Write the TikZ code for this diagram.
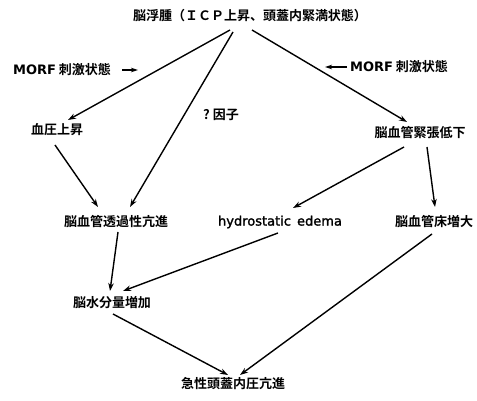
\documentclass[tikz,border=0pt]{standalone}
\usepackage{fontspec}
\setmainfont{Noto Sans CJK JP}[BoldFont={* Bold}]
\newfontfamily\latf{DejaVu Sans}[FakeBold=1.6]
\newfontfamily\latb{DejaVu Sans Bold}
\usetikzlibrary{arrows.meta}
\begin{document}
\begin{tikzpicture}[x=1pt,y=-1pt,
  lbl/.style={font=\fontsize{13}{15}\selectfont\bfseries, inner sep=1pt},
  arr/.style={-{Stealth[length=8pt,width=5.5pt]}, line width=1.4pt},
  sarr/.style={-{Stealth[length=7pt,width=4.5pt]}, line width=1.3pt}]
\useasboundingbox (0,0) rectangle (477,401);
\node[lbl] (top) at (250,16) {脳浮腫（ＩＣＰ上昇、頭蓋内緊満状態）};
\node[lbl] (morfL) at (62,70) {{\latb MORF} 刺激状態};
\node[lbl] (morfR) at (399,67) {{\latb MORF} 刺激状態};
\node[lbl] (bp) at (57,130) {血圧上昇};
\node[lbl] (q) at (221,115) {?\hspace{3pt}因子};
\node[lbl] (tone) at (420,133) {脳血管緊張低下};
\node[lbl] (perm) at (116,222) {脳血管透過性亢進};
\node[lbl] (hyd) at (280,222) {\latf\mdseries hydrostatic\hspace{2pt} edema};
\node[lbl] (bed) at (434,222) {脳血管床増大};
\node[lbl] (water) at (112,303) {脳水分量増加};
\node[lbl] (icp) at (233,384) {急性頭蓋内圧亢進};
\draw[sarr] ([xshift=60pt]morfL.center) -- ([xshift=76pt]morfL.center);
\draw[sarr] ([xshift=-52pt]morfR.center) -- ([xshift=-74pt]morfR.center);
\draw[arr] ([xshift=-20pt,yshift=-14pt]top.center) -- ([xshift=11pt,yshift=10pt]bp.center);
\draw[arr] ([xshift=-17pt,yshift=-16pt]top.center) -- ([xshift=14pt,yshift=15pt]perm.center);
\draw[arr] ([xshift=2pt,yshift=-14pt]top.center) -- ([xshift=-13pt,yshift=11pt]tone.center);
\draw[arr] ([xshift=-2pt,yshift=-15pt]bp.center) -- ([xshift=-18pt,yshift=15pt]perm.center);
\draw[arr] ([xshift=-16pt,yshift=-14pt]tone.center) -- ([xshift=13pt,yshift=14pt]hyd.center);
\draw[arr] ([xshift=7pt,yshift=-14pt]tone.center) -- ([xshift=1pt,yshift=15pt]bed.center);
\draw[arr] ([xshift=2pt,yshift=-10pt]perm.center) -- ([xshift=-2pt,yshift=12pt]water.center);
\draw[arr] ([xshift=-2pt,yshift=-11pt]hyd.center) -- ([xshift=11pt,yshift=12pt]water.center);
\draw[arr] ([xshift=1pt,yshift=-11pt]water.center) -- ([xshift=-5pt,yshift=9pt]icp.center);
\draw[arr] ([xshift=-2pt,yshift=-12pt]bed.center) -- ([xshift=7pt,yshift=9pt]icp.center);
\end{tikzpicture}
\end{document}
